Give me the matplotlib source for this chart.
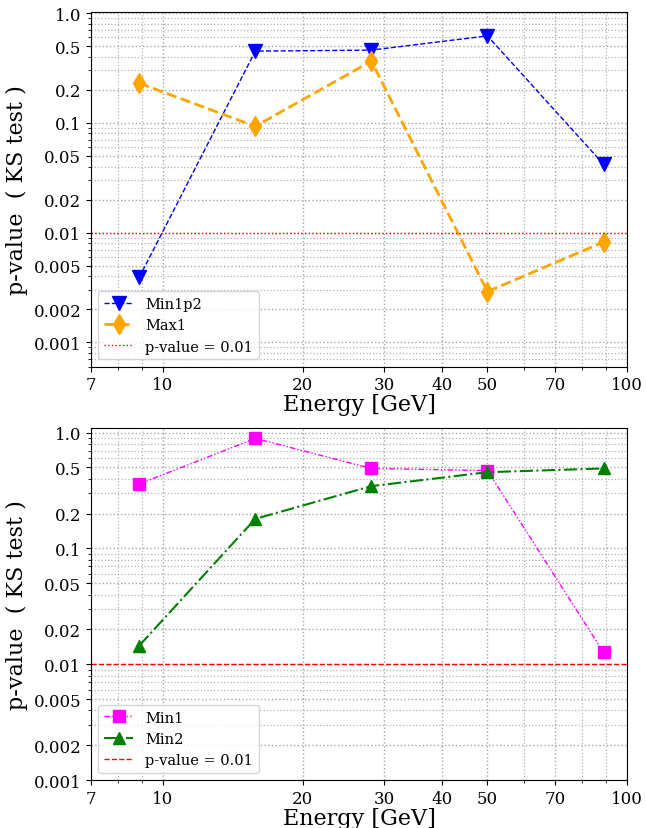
import matplotlib
matplotlib.use('Agg')
import matplotlib.pyplot as plt
from matplotlib.ticker import FixedLocator, FixedFormatter, LogLocator, NullFormatter

plt.rcParams['font.family'] = 'DejaVu Serif'

# energies (GeV)
energy = [8.89, 15.81, 28.12, 50.0, 88.91]

# top panel
min1p2 = [0.0039, 0.45, 0.46, 0.62, 0.042]
max1 = [0.23, 0.093, 0.365, 0.0029, 0.0082]
# bottom panel
min1 = [0.36, 0.89, 0.49, 0.47, 0.0127]
min2 = [0.0145, 0.18, 0.345, 0.455, 0.49]

threshold = 0.01
xticks = [7, 10, 20, 30, 40, 50, 70, 100]
yticks = [0.001, 0.002, 0.005, 0.01, 0.02, 0.05, 0.1, 0.2, 0.5, 1.0]
ylabels = ['0.001', '0.002', '0.005', '0.01', '0.02', '0.05', '0.1', '0.2', '0.5', '1.0']

fig = plt.figure(figsize=(6.46, 8.29), dpi=100)
ax1 = fig.add_axes([0.1409, 0.5565, 0.830, 0.4282])
ax2 = fig.add_axes([0.1409, 0.0576, 0.830, 0.4252])

ax1.plot(energy, min1p2, color='blue', marker='v', markersize=10, linestyle='--', linewidth=1, label='Min1p2')
ax1.plot(energy, max1, color='orange', marker='d', markersize=10, linestyle='--', linewidth=2, label='Max1')
ax1.axhline(threshold, color='red', linestyle=':', linewidth=1, label='p-value = 0.01')

ax2.plot(energy, min1, color='magenta', marker='s', markersize=9, linestyle=(0, (4, 1.5, 1, 1.5, 1, 1.5)), linewidth=1, label='Min1')
ax2.plot(energy, min2, color='green', marker='^', markersize=9, linestyle='-.', linewidth=1.5, label='Min2')
ax2.axhline(threshold, color='red', linestyle='--', linewidth=1, label='p-value = 0.01')

for ax in (ax1, ax2):
    ax.set_xscale('log')
    ax.set_yscale('log')
    ax.set_xlim(7, 100)
    ax.xaxis.set_major_locator(FixedLocator(xticks))
    ax.xaxis.set_major_formatter(FixedFormatter([str(t) for t in xticks]))
    ax.xaxis.set_minor_locator(FixedLocator([8, 9, 60, 80, 90]))
    ax.xaxis.set_minor_formatter(NullFormatter())
    ax.yaxis.set_major_locator(FixedLocator(yticks))
    ax.yaxis.set_major_formatter(FixedFormatter(ylabels))
    ax.yaxis.set_minor_locator(LogLocator(base=10, subs=(3, 4, 6, 7, 8, 9), numticks=20))
    ax.yaxis.set_minor_formatter(NullFormatter())
    ax.grid(True, which='major', linestyle=':', color='0.65', linewidth=1)
    ax.grid(True, which='minor', linestyle=':', color='0.7', linewidth=0.9)
    ax.set_axisbelow(True)
    ax.tick_params(labelsize=12)
    ax.set_ylabel('p-value  ( KS test )', fontsize=16)
    ax.legend(loc='lower left', fontsize=10.5)

ax1.set_xlabel('Energy [GeV]', fontsize=16, labelpad=0)
ax2.set_xlabel('Energy [GeV]', fontsize=16, labelpad=0)

ax1.set_ylim(6e-4, 1.03)
ax2.set_ylim(1e-3, 1.1)

fig.savefig('out.png', dpi=100)
